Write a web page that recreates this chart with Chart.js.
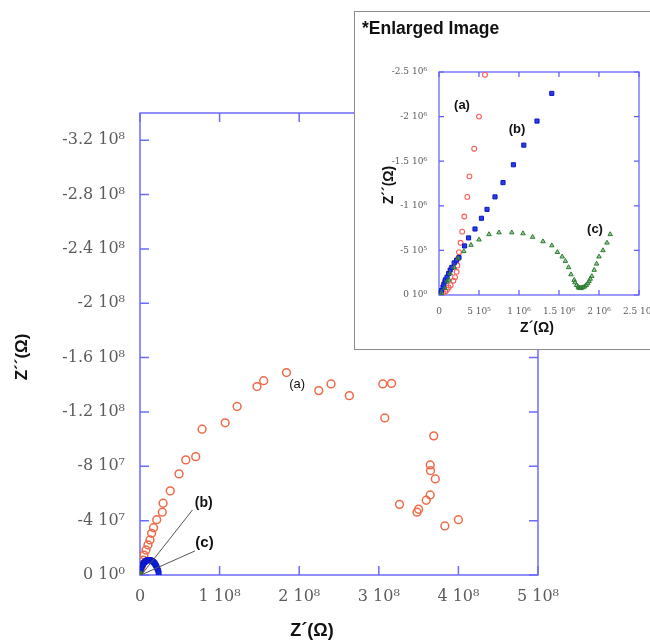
<!DOCTYPE html>
<html>
<head>
<meta charset="utf-8">
<script src="https://cdn.jsdelivr.net/npm/chart.js@4.4.1/dist/chart.umd.min.js"></script>
<style>
  body { margin: 0; background: #fff; overflow: hidden; }
  #wrap { position: relative; width: 650px; height: 644px; overflow: hidden; }
  #main { position: absolute; left: 0; top: 0; }
  #inset { position: absolute; left: 354px; top: 11px; width: 330px; height: 337px;
           border: 1.5px solid #8c8c8c; background: #fff; }
  #insetChart { position: absolute; left: 0; top: 0; }
  #insetTitle { position: absolute; left: 7px; top: 6px; line-height: 20px;
                font: bold 17.5px "Liberation Sans", Arial, sans-serif; color: #111; }
</style>
</head>
<body>
<div id="wrap">
  <canvas id="main" width="650" height="644"></canvas>
  <div id="inset">
    <canvas id="insetChart" width="330" height="337"></canvas>
    <div id="insetTitle">*Enlarged Image</div>
  </div>
</div>
<script>
/* ---------- main plot data (Z', Z'' in ohm) ---------- */
const aMainZre = [0, 0.01e8, 0.02e8, 0.04e8, 0.05e8, 0.075e8, 0.10e8, 0.125e8, 0.146e8, 0.17e8,
  0.21e8, 0.28e8, 0.29e8, 0.38e8, 0.49e8, 0.575e8, 0.70e8, 0.78e8, 1.07e8, 1.22e8,
  1.47e8, 1.554e8, 1.84e8, 2.246e8, 2.40e8, 2.63e8, 3.05e8, 3.16e8, 3.075e8, 3.69e8,
  3.646e8, 3.65e8, 3.71e8, 3.646e8, 3.596e8, 3.26e8, 3.50e8, 3.48e8, 4.0e8, 3.83e8];
const aMainZim = [-0.37e7, -0.55e7, -0.74e7, -1.1e7, -1.47e7, -1.84e7, -2.21e7, -2.58e7, -3.07e7, -3.48e7,
  -4.07e7, -4.62e7, -5.28e7, -6.19e7, -7.44e7, -8.47e7, -8.71e7, -10.73e7, -11.2e7, -12.4e7,
  -13.87e7, -14.3e7, -14.9e7, -13.57e7, -14.06e7, -13.2e7, -14.06e7, -14.1e7, -11.56e7, -10.24e7,
  -8.1e7, -7.68e7, -7.07e7, -5.89e7, -5.5e7, -5.2e7, -4.84e7, -4.62e7, -4.07e7, -3.61e7];

const bMainZre = [0.005e8, 0.01e8, 0.02e8, 0.03e8, 0.04e8, 0.05e8, 0.06e8, 0.07e8, 0.08e8, 0.09e8,
  0.10e8, 0.11e8, 0.12e8, 0.13e8, 0.14e8, 0.15e8, 0.16e8, 0.17e8, 0.18e8, 0.19e8,
  0.20e8, 0.21e8, 0.22e8, 0.23e8, 0.235e8];
const bMainZim = [-0.3e7, -0.45e7, -0.6e7, -0.72e7, -0.82e7, -0.9e7, -0.96e7, -1.0e7, -1.05e7, -1.08e7,
  -1.1e7, -1.1e7, -1.1e7, -1.09e7, -1.07e7, -1.04e7, -1.0e7, -0.95e7, -0.88e7, -0.8e7,
  -0.7e7, -0.58e7, -0.45e7, -0.3e7, -0.15e7];

const cMainZre = [0, 0.002e8, 0.004e8, 0.006e8];
const cMainZim = [-0.05e7, -0.12e7, -0.08e7, -0.03e7];

// leader lines from the (b) and (c) labels to the origin
const bLeaderZre = [0.66e8, 0.025e8];
const bLeaderZim = [-4.79e7, -0.07e7];
const cLeaderZre = [0.69e8, 0.012e8];
const cLeaderZim = [-1.77e7, 0];

const xTicksMain = [0, 1e8, 2e8, 3e8, 4e8, 5e8];
const xTickLabelsMain = ['0', '1 10⁸', '2 10⁸', '3 10⁸', '4 10⁸', '5 10⁸'];
const yTicksMain = [0, -4e7, -8e7, -1.2e8, -1.6e8, -2e8, -2.4e8, -2.8e8, -3.2e8];
const yTickLabelsMain = ['0 10⁰', '-4 10⁷', '-8 10⁷', '-1.2 10⁸', '-1.6 10⁸', '-2 10⁸', '-2.4 10⁸', '-2.8 10⁸', '-3.2 10⁸'];

/* ---------- enlarged image data ---------- */
const aInsetZre = [0.05e6, 0.08e6, 0.10e6, 0.12e6, 0.146e6, 0.18e6, 0.20e6, 0.22e6, 0.23e6, 0.24e6,
  0.25e6, 0.27e6, 0.29e6, 0.316e6, 0.354e6, 0.38e6, 0.44e6, 0.50e6, 0.575e6];
const aInsetZim = [-0.02e6, -0.04e6, -0.06e6, -0.085e6, -0.11e6, -0.16e6, -0.20e6, -0.26e6, -0.33e6, -0.41e6,
  -0.48e6, -0.585e6, -0.71e6, -0.88e6, -1.10e6, -1.33e6, -1.64e6, -2.0e6, -2.47e6];

const bInsetZre = [0.01e6, 0.03e6, 0.05e6, 0.06e6, 0.075e6, 0.08e6, 0.10e6, 0.12e6, 0.14e6, 0.16e6,
  0.19e6, 0.22e6, 0.25e6, 0.32e6, 0.37e6, 0.45e6, 0.53e6, 0.60e6, 0.70e6, 0.80e6,
  0.93e6, 1.06e6, 1.225e6, 1.41e6];
const bInsetZim = [-0.02e6, -0.05e6, -0.09e6, -0.12e6, -0.15e6, -0.17e6, -0.20e6, -0.24e6, -0.28e6, -0.31e6,
  -0.36e6, -0.39e6, -0.42e6, -0.55e6, -0.64e6, -0.74e6, -0.86e6, -0.96e6, -1.10e6, -1.26e6,
  -1.46e6, -1.68e6, -1.95e6, -2.26e6];

const cInsetZre = [0.03e6, 0.075e6, 0.10e6, 0.125e6, 0.14e6, 0.19e6, 0.24e6, 0.31e6, 0.40e6, 0.50e6,
  0.625e6, 0.75e6, 0.91e6, 1.05e6, 1.17e6, 1.30e6, 1.41e6, 1.48e6, 1.54e6, 1.58e6,
  1.62e6, 1.65e6, 1.69e6, 1.70e6, 1.72e6, 1.74e6, 1.75e6, 1.76e6, 1.77e6, 1.78e6,
  1.80e6, 1.82e6, 1.84e6, 1.86e6, 1.875e6, 1.89e6, 1.91e6, 1.94e6, 1.97e6, 2.0e6,
  2.05e6, 2.10e6, 2.14e6];
const cInsetZim = [-0.02e6, -0.075e6, -0.15e6, -0.17e6, -0.24e6, -0.31e6, -0.41e6, -0.49e6, -0.56e6, -0.62e6,
  -0.68e6, -0.70e6, -0.70e6, -0.69e6, -0.65e6, -0.60e6, -0.555e6, -0.48e6, -0.43e6, -0.38e6,
  -0.31e6, -0.23e6, -0.167e6, -0.14e6, -0.11e6, -0.09e6, -0.08e6, -0.078e6, -0.075e6, -0.08e6,
  -0.085e6, -0.095e6, -0.11e6, -0.13e6, -0.155e6, -0.18e6, -0.21e6, -0.28e6, -0.35e6, -0.43e6,
  -0.5e6, -0.585e6, -0.68e6];

const xTicksInset = [0, 5e5, 1e6, 1.5e6, 2e6, 2.5e6];
const xTickLabelsInset = ['0', '5 10⁵', '1 10⁶', '1.5 10⁶', '2 10⁶', '2.5 10⁶'];
const yTicksInset = [0, -5e5, -1e6, -1.5e6, -2e6, -2.5e6];
const yTickLabelsInset = ['0 10⁰', '-5 10⁵', '-1 10⁶', '-1.5 10⁶', '-2 10⁶', '-2.5 10⁶'];

/* ---------- helpers ---------- */
const pts = (xs, ys) => xs.map((x, i) => ({ x, y: ys[i] }));

// box frame with inward ticks on all four sides, plus text notes
const framePlugin = {
  id: 'frame',
  beforeDatasetsDraw(chart, args, o) {
    const { ctx, chartArea: a, scales: { x, y } } = chart;
    ctx.save();
    ctx.strokeStyle = o.color;
    ctx.lineWidth = o.width;
    ctx.strokeRect(a.left, a.top, a.width, a.height);
    ctx.beginPath();
    x.ticks.forEach(t => {
      const p = x.getPixelForValue(t.value);
      ctx.moveTo(p, a.bottom); ctx.lineTo(p, a.bottom - o.tick);
      ctx.moveTo(p, a.top); ctx.lineTo(p, a.top + o.tick);
    });
    y.ticks.forEach(t => {
      const p = y.getPixelForValue(t.value);
      ctx.moveTo(a.left, p); ctx.lineTo(a.left + o.tick, p);
      ctx.moveTo(a.right, p); ctx.lineTo(a.right - o.tick, p);
    });
    ctx.stroke();
    ctx.restore();
  },
  afterDatasetsDraw(chart, args, o) {
    const { ctx, scales: { x, y } } = chart;
    ctx.save();
    ctx.fillStyle = '#111';
    ctx.textAlign = 'center';
    ctx.textBaseline = 'middle';
    o.notes.forEach(n => {
      ctx.font = n.font;
      ctx.fillText(n.text, x.getPixelForValue(n.x), y.getPixelForValue(n.y));
    });
    o.titles.forEach(t => {
      ctx.save();
      ctx.translate(t.px, t.py);
      ctx.rotate(t.rot || 0);
      ctx.font = t.font;
      ctx.fillText(t.text, 0, 0);
      ctx.restore();
    });
    ctx.restore();
  }
};

function axis(ticks, labels, min, max, size, fit, pad, reverse) {
  return {
    type: 'linear', min, max, reverse: !!reverse,
    grid: { display: false }, border: { display: false },
    afterBuildTicks: s => { s.ticks = ticks.map(v => ({ value: v })); },
    afterFit: fit,
    ticks: {
      autoSkip: false, maxRotation: 0, padding: pad,
      color: '#5c5c5c', font: { family: 'DejaVu Serif', size },
      callback: v => labels[ticks.indexOf(v)]
    }
  };
}

/* ---------- main chart ---------- */
new Chart(document.getElementById('main'), {
  type: 'scatter',
  data: {
    datasets: [
      { data: pts(bLeaderZre, bLeaderZim), showLine: true, pointRadius: 0, borderColor: '#555', borderWidth: 1 },
      { data: pts(cLeaderZre, cLeaderZim), showLine: true, pointRadius: 0, borderColor: '#555', borderWidth: 1 },
      { data: pts(cMainZre, cMainZim), pointStyle: 'rect', pointRadius: 2.5,
        backgroundColor: '#2e7d32', borderColor: '#2e7d32', borderWidth: 1 },
      { data: pts(bMainZre, bMainZim), pointStyle: 'rect', pointRadius: 3.3,
        backgroundColor: '#1428e0', borderColor: '#0a18c8', borderWidth: 1 },
      { data: pts(aMainZre, aMainZim), pointStyle: 'circle', pointRadius: 3.9,
        backgroundColor: 'rgba(0,0,0,0)', borderColor: '#ee6a48', borderWidth: 1.5 }
    ]
  },
  options: {
    responsive: false, animation: false, events: [],
    layout: { padding: { top: 113, right: 112, left: 0, bottom: 0 } },
    plugins: {
      legend: { display: false }, tooltip: { enabled: false },
      frame: {
        color: '#6b6bff', width: 1.5, tick: 9,
        notes: [
          { text: '(a)', x: 1.975e8, y: -14.0e7, font: '13px "Liberation Sans", Arial' },
          { text: '(b)', x: 0.8e8, y: -5.3e7, font: 'bold 14px "Liberation Sans", Arial' },
          { text: '(c)', x: 0.81e8, y: -2.36e7, font: 'bold 15px "Liberation Sans", Arial' }
        ],
        titles: [
          { text: 'Z´(Ω)', px: 312, py: 631, font: 'bold 18px "Liberation Sans", Arial' },
          { text: 'Z´´(Ω)', px: 22, py: 357, rot: -Math.PI / 2, font: 'bold 17px "Liberation Sans", Arial' }
        ]
      }
    },
    scales: {
      x: axis(xTicksMain, xTickLabelsMain, 0, 5e8, 16, s => { s.height = 69; }, 4),
      y: axis(yTicksMain, yTickLabelsMain, -3.4e8, 0, 16, s => { s.width = 140; }, 7, true)
    }
  },
  plugins: [framePlugin]
});

/* ---------- enlarged image ---------- */
new Chart(document.getElementById('insetChart'), {
  type: 'scatter',
  data: {
    datasets: [
      { data: pts(cInsetZre, cInsetZim), pointStyle: 'triangle', pointRadius: 2.6,
        backgroundColor: 'rgba(70,150,70,0.55)', borderColor: '#2e7d32', borderWidth: 1 },
      { data: pts(bInsetZre, bInsetZim), pointStyle: 'rect', pointRadius: 2.9,
        backgroundColor: '#2a3ce8', borderColor: '#0a18c0', borderWidth: 1 },
      { data: pts(aInsetZre, aInsetZim), pointStyle: 'circle', pointRadius: 2.4,
        backgroundColor: 'rgba(0,0,0,0)', borderColor: '#ff5a5a', borderWidth: 1.1 }
    ]
  },
  options: {
    responsive: false, animation: false, events: [],
    layout: { padding: { top: 60, right: 46, left: 0, bottom: 0 } },
    plugins: {
      legend: { display: false }, tooltip: { enabled: false },
      frame: {
        color: '#5a5aff', width: 1.2, tick: 5,
        notes: [
          { text: '(a)', x: 0.2875e6, y: -2.12e6, font: 'bold 13px "Liberation Sans", Arial' },
          { text: '(b)', x: 0.975e6, y: -1.856e6, font: 'bold 13px "Liberation Sans", Arial' },
          { text: '(c)', x: 1.95e6, y: -0.733e6, font: 'bold 13px "Liberation Sans", Arial' }
        ],
        titles: [
          { text: 'Z´(Ω)', px: 182, py: 316, font: 'bold 14px "Liberation Sans", Arial' },
          { text: 'Z´´(Ω)', px: 34, py: 173, rot: -Math.PI / 2, font: 'bold 14px "Liberation Sans", Arial' }
        ]
      }
    },
    scales: {
      x: axis(xTicksInset, xTickLabelsInset, 0, 2.5e6, 9, s => { s.height = 54; }, 3),
      y: axis(yTicksInset, yTickLabelsInset, -2.5e6, 0, 9, s => { s.width = 84; }, 4, true)
    }
  },
  plugins: [framePlugin]
});
</script>
</body>
</html>
